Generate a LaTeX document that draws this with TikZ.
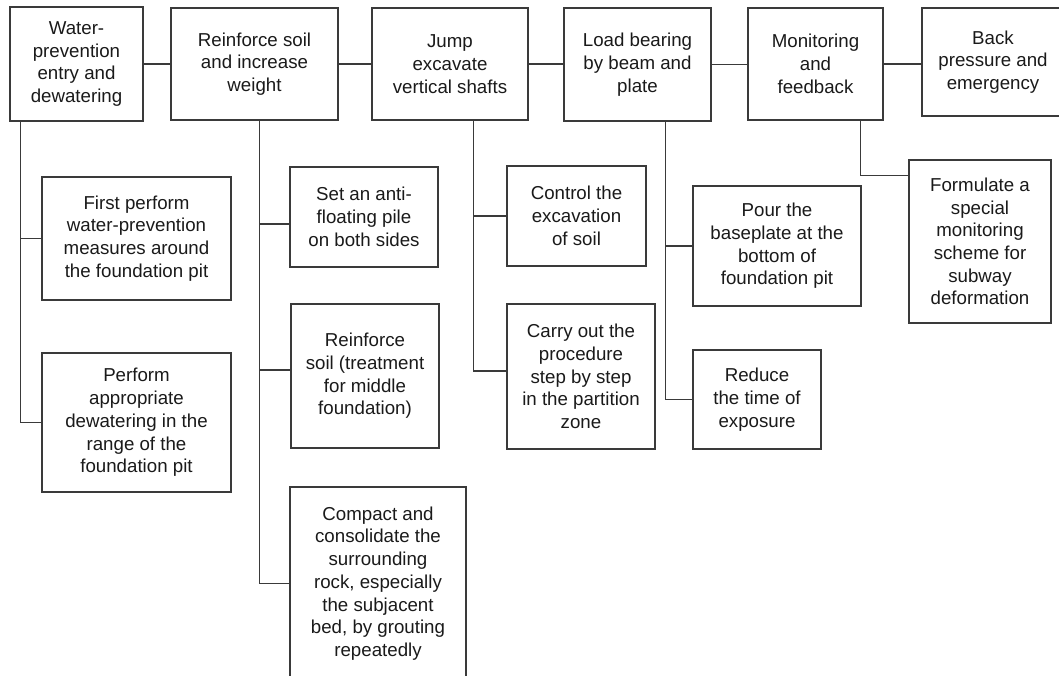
\documentclass[tikz,border=0pt]{standalone}
\usepackage{fontspec}
\setmainfont{Liberation Sans}
\definecolor{linecol}{HTML}{3A3A3A}
\definecolor{txtcol}{HTML}{1A1A1A}
\begin{document}
\begin{tikzpicture}[x=1pt,y=-1pt,
  box/.style={draw=linecol, line width=1.2pt, rectangle, inner sep=0pt, align=center,
    text=txtcol, font=\fontsize{18.7}{22.7}\selectfont},
  conn/.style={draw=linecol, line width=1.2pt}]
\useasboundingbox (0,0) rectangle (1059,676);
\clip (0,0) rectangle (1059,676);
\fill[white] (0,0) rectangle (1059,676);
% top row
\node[box, minimum width=133pt, minimum height=114pt] (b1) at (76.5,64) {Water-\\prevention\\entry and\\dewatering};
\node[box, minimum width=167pt, minimum height=112pt] (b2) at (254.5,64) {Reinforce soil\\and increase\\weight};
\node[box, minimum width=156pt, minimum height=112pt] (b3) at (450,64) {Jump\\excavate\\vertical shafts};
\node[box, minimum width=147pt, minimum height=113pt] (b4) at (637.5,64.5) {Load bearing\\by beam and\\plate};
\node[box, minimum width=135pt, minimum height=112pt] (b5) at (815.5,64) {Monitoring\\and\\feedback};
\node[box, minimum width=142pt, minimum height=108pt] (b6) at (993,62) {Back\\pressure and\\emergency};
% children
\node[box, minimum width=189pt, minimum height=123pt] (a1) at (136.5,238.5) {First perform\\water-prevention\\measures around\\the foundation pit};
\node[box, minimum width=189pt, minimum height=139pt] (a2) at (136.5,422.5) {Perform\\appropriate\\dewatering in the\\range of the\\foundation pit};
\node[box, minimum width=148pt, minimum height=100pt] (c1) at (364,217) {Set an anti-\\floating pile\\on both sides};
\node[box, minimum width=148pt, minimum height=144pt] (c2) at (365,376) {Reinforce\\soil (treatment\\for middle\\foundation)};
\node[box, minimum width=176pt, minimum height=193pt] (c3) at (378,583.5) {Compact and\\consolidate the\\surrounding\\rock, especially\\the subjacent\\bed, by grouting\\repeatedly};
\node[box, minimum width=139pt, minimum height=100pt] (d1) at (576.5,216) {Control the\\excavation\\of soil};
\node[box, minimum width=148pt, minimum height=145pt] (d2) at (581,376.5) {Carry out the\\procedure\\step by step\\in the partition\\zone};
\node[box, minimum width=168pt, minimum height=120pt] (e1) at (777,246) {Pour the\\baseplate at the\\bottom of\\foundation pit};
\node[box, minimum width=128pt, minimum height=99pt] (e2) at (757,399.5) {Reduce\\the time of\\exposure};
\node[box, minimum width=142pt, minimum height=163pt] (f1) at (980,241.5) {Formulate a\\special\\monitoring\\scheme for\\subway\\deformation};
% top connectors
\draw[conn] (b1.east) -- (b1.east -| b2.west);
\draw[conn] (b2.east) -- (b2.east -| b3.west);
\draw[conn] (b3.east) -- (b3.east -| b4.west);
\draw[conn] (b4.east) -- (b4.east -| b5.west);
\draw[conn] (b5.east) -- (b5.east -| b6.west);
% trunks
\draw[conn] ([xshift=11pt]b1.south west) |- (a1.west);
\draw[conn] ([xshift=11pt]b1.south west) |- (a2.west);
\draw[conn] ([xshift=89pt]b2.south west) |- ([yshift=-7pt]c1.west);
\draw[conn] ([xshift=89pt]b2.south west) |- ([yshift=6pt]c2.west);
\draw[conn] ([xshift=89pt]b2.south west) |- (c3.west);
\draw[conn] ([xshift=102pt]b3.south west) |- (d1.west);
\draw[conn] ([xshift=102pt]b3.south west) |- ([yshift=5.5pt]d2.west);
\draw[conn] ([xshift=102pt]b4.south west) |- (e1.west);
\draw[conn] ([xshift=102pt]b4.south west) |- (e2.west);
\draw[conn] ([xshift=113pt]b5.south west) |- ([yshift=-16pt]f1.north west);
\end{tikzpicture}
\end{document}
